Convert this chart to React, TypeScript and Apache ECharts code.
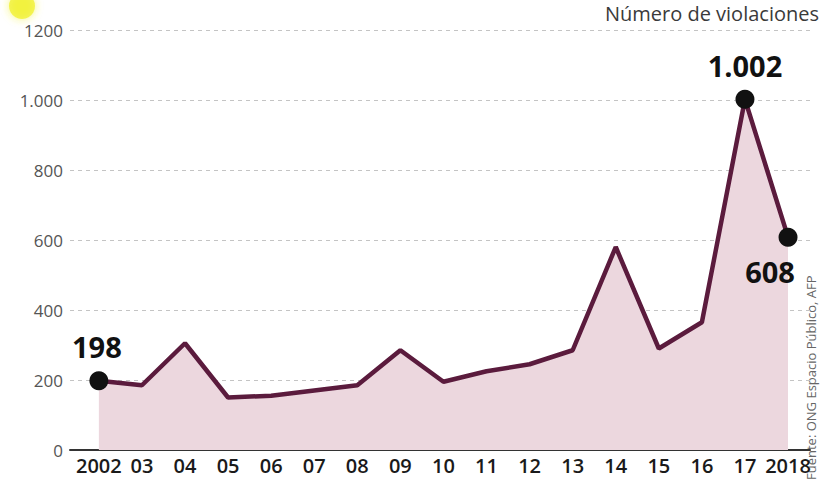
import React, { useEffect, useRef } from "react";
import * as echarts from "echarts";

const years = [2002, 2003, 2004, 2005, 2006, 2007, 2008, 2009, 2010, 2011, 2012, 2013, 2014, 2015, 2016, 2017, 2018];
const values = [198, 185, 305, 150, 155, 170, 185, 285, 195, 225, 245, 285, 580, 290, 365, 1002, 608];
const yearLabels = ["2002", "03", "04", "05", "06", "07", "08", "09", "10", "11", "12", "13", "14", "15", "16", "17", "2018"];
const yTickLabels: Record<number, string> = { 0: "0", 200: "200", 400: "400", 600: "600", 800: "800", 1000: "1.000", 1200: "1200" };
const highlighted = [2002, 2017, 2018];
const title = "Número de violaciones";
const source = "Fuente: ONG Espacio Público, AFP";

const fmt = (v: number) => (v >= 1000 ? `${Math.floor(v / 1000)}.${String(v % 1000).padStart(3, "0")}` : String(v));

export default function App() {
  const ref = useRef<HTMLDivElement>(null);
  useEffect(() => {
    if (!ref.current) return;
    const chart = echarts.init(ref.current, null, { renderer: "svg" });
    const labelPos: Record<number, any> = {
      2002: { position: "top", distance: 10, offset: [-2, 0] },
      2017: { position: "top", distance: 10, offset: [0, 0] },
      2018: { position: "bottom", distance: 10, offset: [-18, 0] },
    };
    const data = years.map((y, i) => {
      if (highlighted.includes(y)) {
        return {
          value: [y, values[i]],
          symbol: "circle",
          symbolSize: 19,
          itemStyle: { color: "#111" },
          label: {
            show: true,
            formatter: fmt(values[i]),
            fontSize: 29,
            fontWeight: "bold",
            color: "#111",
            fontFamily: "Open Sans",
            ...labelPos[y],
          },
        };
      }
      return { value: [y, values[i]], symbol: "none" };
    });
    chart.setOption({
      animation: false,
      backgroundColor: "#ffffff",
      grid: { left: 70, right: 13, top: 30, bottom: 35 },
      xAxis: {
        type: "value",
        min: 2001.33,
        max: 2018.51,
        splitLine: { show: false },
        axisTick: { show: false },
        axisLine: { show: true, onZero: true, lineStyle: { color: "#333", width: 2 } },
        axisLabel: {
          customValues: years,
          formatter: (v: number) => yearLabels[years.indexOf(Math.round(v))] ?? "",
          fontSize: 20,
          fontWeight: 600,
          fontFamily: "Open Sans",
          color: "#1a1a1a",
          margin: 5,
          showMinLabel: true,
          showMaxLabel: true,
        },
      },
      yAxis: {
        type: "value",
        min: 0,
        max: 1200,
        interval: 200,
        axisLine: { show: false },
        axisTick: { show: false },
        splitLine: { show: true, lineStyle: { color: "#c4c4c4", type: [4, 4], width: 1 } },
        axisLabel: {
          formatter: (v: number) => yTickLabels[v] ?? String(v),
          fontSize: 17,
          fontFamily: "Open Sans",
          color: "#555",
          margin: 7,
        },
      },
      series: [
        {
          type: "line",
          data,
          symbol: "none",
          showAllSymbol: true,
          lineStyle: { color: "#5b1b3d", width: 4.5 },
          areaStyle: { color: "#ecd7de", opacity: 1 },
          z: 3,
        },
      ],
      graphic: [
        {
          type: "circle",
          shape: { cx: 22, cy: 6, r: 13 },
          style: { fill: "rgba(240,240,40,0.75)", shadowBlur: 8, shadowColor: "rgba(240,240,40,0.8)" },
          z: 0,
        },
        {
          type: "text",
          right: 4,
          top: 3,
          style: { text: title, fontSize: 20, fill: "#3a3a3a", fontFamily: "Open Sans" },
        },
        {
          type: "text",
          x: 811,
          y: 480,
          rotation: Math.PI / 2,
          style: {
            text: source,
            fontSize: 13,
            fill: "#666",
            fontFamily: "Open Sans",
            align: "left",
            verticalAlign: "middle",
          },
        },
      ],
    });
    return () => chart.dispose();
  }, []);
  return <div ref={ref} style={{ position: "fixed", left: 0, top: 0, width: 823, height: 485 }} />;
}
